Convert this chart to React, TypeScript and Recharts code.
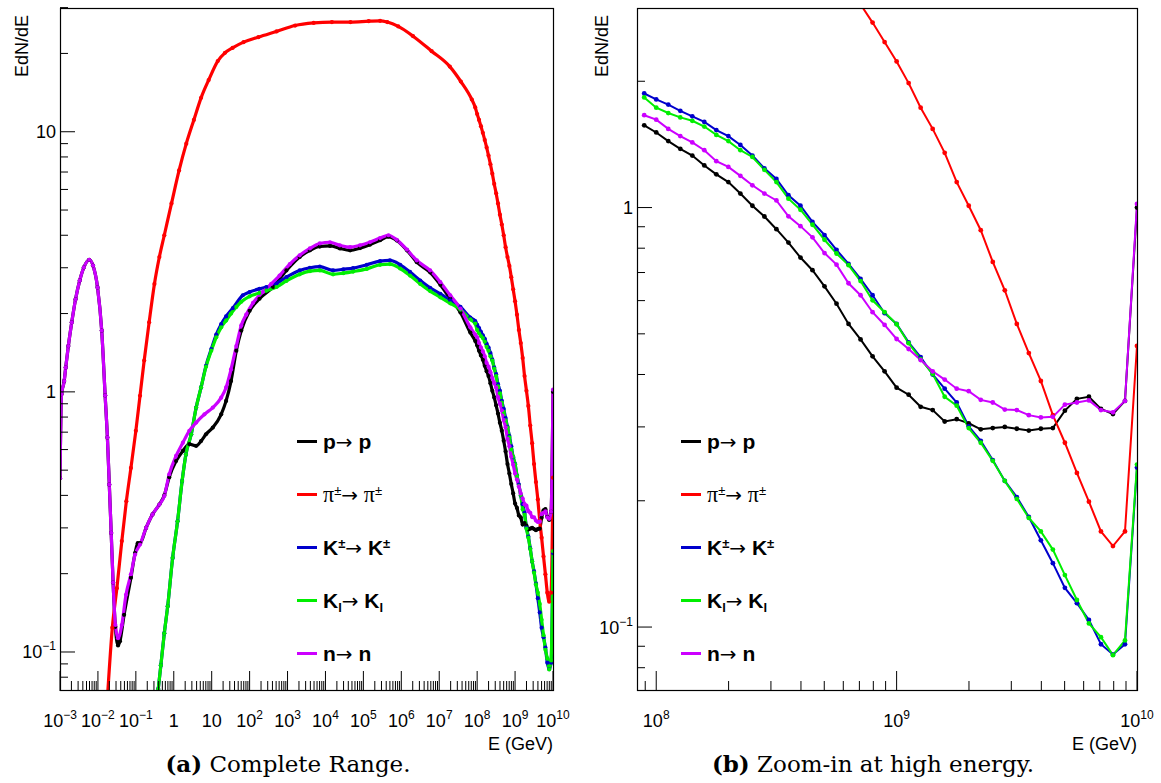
import React from "react";
import { LineChart, Line, XAxis, YAxis, Legend } from "recharts";

// log10(E/GeV) of the fine bins used by both panels above 10^7.95 GeV
const HI_EXP = [
  7.95, 8.0, 8.05, 8.1, 8.15, 8.2, 8.25, 8.3, 8.35, 8.4, 8.45, 8.5, 8.55, 8.6,
  8.65, 8.7, 8.75, 8.8, 8.85, 8.9, 8.95, 9.0, 9.05, 9.1, 9.15, 9.2, 9.25, 9.3,
  9.35, 9.4, 9.45, 9.5, 9.55, 9.6, 9.65, 9.7, 9.75, 9.8, 9.85, 9.9, 9.95, 10.0,
];

// p -> p
const P_LO_EXP = [
  -3.0, -2.96, -2.89, -2.85, -2.78, -2.69, -2.59, -2.48, -2.37, -2.23, -2.13, -2.01,
  -1.9, -1.81, -1.75, -1.7, -1.65, -1.6, -1.54, -1.47, -1.42, -1.31, -1.13, -1.02,
  -0.95, -0.89, -0.73, -0.56, -0.38, -0.25, -0.12, 0.06, 0.24, 0.41, 0.59, 0.72,
  0.85, 1.03, 1.25, 1.38, 1.51, 1.65, 1.78, 2.0, 2.26, 2.62, 2.97, 3.32, 3.59,
  3.85, 4.12, 4.38, 4.65, 4.91, 5.17, 5.44, 5.66, 5.88, 6.15, 6.41, 6.76, 7.03,
  7.29, 7.56, 7.82,
];
const P_LO = [
  0.465, 0.98, 1.1, 1.24, 1.5, 1.85, 2.27, 2.68, 3.01, 3.22, 3.06, 2.52,
  1.72, 0.97, 0.667, 0.44, 0.287, 0.185, 0.125, 0.106, 0.11, 0.139, 0.193, 0.24,
  0.262, 0.262, 0.3, 0.338, 0.369, 0.4, 0.47, 0.542, 0.593, 0.63, 0.62, 0.647,
  0.687, 0.729, 0.82, 0.923, 1.1, 1.44, 1.72, 2.05, 2.28, 2.53, 2.93, 3.3, 3.5,
  3.62, 3.64, 3.56, 3.5, 3.57, 3.68, 3.83, 3.95, 3.82, 3.5, 3.15, 2.88, 2.58,
  2.28, 2.02, 1.69,
];
const P_HI = [
  1.57, 1.51, 1.44, 1.38, 1.33, 1.26, 1.2, 1.15, 1.08, 1.01, 0.952, 0.888, 0.825,
  0.76, 0.709, 0.649, 0.59, 0.528, 0.485, 0.442, 0.407, 0.372, 0.358, 0.335,
  0.329, 0.309, 0.313, 0.306, 0.296, 0.298, 0.3, 0.297, 0.294, 0.297, 0.298,
  0.328, 0.35, 0.354, 0.331, 0.322, 0.346, 1.0,
];

// pi± -> pi±
const PI_LO_EXP = [
  -1.74, -1.62, -1.5, -1.37, -1.25, -1.13, -1.0, -0.89, -0.78, -0.65, -0.51, -0.38,
  -0.25, -0.06, 0.14, 0.33, 0.53, 0.72, 0.92, 1.16, 1.35, 1.55, 1.84, 2.23, 2.71,
  3.2, 3.69, 4.17, 4.66, 5.14, 5.44, 5.63, 5.92, 6.31, 6.8, 7.28, 7.57, 7.86,
];
const PI_LO = [
  0.07, 0.124, 0.176, 0.267, 0.38, 0.51, 0.708, 0.966, 1.32, 1.85, 2.6, 3.3,
  4.0, 5.3, 7.1, 9.0, 11.1, 13.5, 15.8, 18.7, 20.1, 21.0, 22.1, 23.1, 24.3,
  25.6, 26.2, 26.4, 26.4, 26.6, 26.7, 26.4, 25.4, 23.3, 20.4, 17.8, 15.6, 13.3,
];
const PI_HI = [
  12.4, 11.7, 11.1, 10.5, 9.9, 9.3, 8.7, 8.1, 7.5, 6.9, 6.3, 5.8, 5.3, 4.8, 4.4,
  4.0, 3.6, 3.3, 3.05, 2.76, 2.48, 2.23, 1.98, 1.73, 1.54, 1.35, 1.15, 1.01,
  0.883, 0.742, 0.635, 0.528, 0.45, 0.386, 0.32, 0.275, 0.233, 0.199, 0.169,
  0.156, 0.169, 0.468,
];

// K± -> K±
const KC_LO_EXP = [
  -0.41, -0.34, -0.25, -0.16, -0.03, 0.1, 0.22, 0.32, 0.46, 0.59, 0.72, 0.85,
  0.99, 1.12, 1.25, 1.38, 1.56, 1.82, 2.0, 2.26, 2.44, 2.71, 2.97, 3.32, 3.59,
  3.85, 4.2, 4.47, 4.73, 5.09, 5.44, 5.7, 5.97, 6.23, 6.5, 6.76, 7.03, 7.29,
  7.56, 7.82,
];
const KC_LO = [
  0.072, 0.089, 0.118, 0.15, 0.23, 0.318, 0.454, 0.575, 0.687, 0.87, 1.04, 1.26,
  1.46, 1.66, 1.82, 1.95, 2.1, 2.35, 2.42, 2.49, 2.53, 2.61, 2.76, 2.93, 3.0,
  3.03, 2.93, 2.96, 2.99, 3.08, 3.18, 3.2, 3.08, 2.89, 2.68, 2.51, 2.38, 2.25,
  2.12, 1.93,
];
const KC_HI = [
  1.87, 1.81, 1.76, 1.7, 1.65, 1.6, 1.53, 1.48, 1.41, 1.33, 1.24, 1.17, 1.07,
  1.01, 0.924, 0.86, 0.793, 0.734, 0.676, 0.618, 0.56, 0.528, 0.477, 0.44, 0.4,
  0.37, 0.343, 0.301, 0.278, 0.25, 0.223, 0.204, 0.183, 0.161, 0.142, 0.124,
  0.114, 0.104, 0.091, 0.086, 0.091, 0.24,
];

// K_l -> K_l
const KL_LO_EXP = [
  -0.41, -0.34, -0.25, -0.16, -0.03, 0.1, 0.22, 0.32, 0.46, 0.59, 0.72, 0.85,
  0.99, 1.12, 1.25, 1.38, 1.51, 1.65, 1.78, 2.0, 2.26, 2.44, 2.71, 2.97, 3.32,
  3.59, 3.85, 4.2, 4.47, 4.73, 5.09, 5.44, 5.7, 5.97, 6.23, 6.5, 6.76, 7.03,
  7.29, 7.56, 7.82,
];
const KL_LO = [
  0.072, 0.089, 0.118, 0.15, 0.23, 0.318, 0.454, 0.575, 0.687, 0.87, 1.04, 1.25,
  1.44, 1.62, 1.77, 1.88, 2.0, 2.12, 2.22, 2.33, 2.4, 2.45, 2.53, 2.67, 2.83,
  2.91, 2.93, 2.83, 2.86, 2.9, 2.97, 3.08, 3.1, 2.98, 2.8, 2.6, 2.44, 2.31,
  2.19, 2.07, 1.9,
];
const KL_HI = [
  1.83, 1.73, 1.68, 1.64, 1.61, 1.56, 1.49, 1.44, 1.37, 1.32, 1.23, 1.15, 1.05,
  0.988, 0.91, 0.838, 0.777, 0.729, 0.668, 0.601, 0.563, 0.527, 0.475, 0.435,
  0.401, 0.354, 0.337, 0.298, 0.275, 0.249, 0.223, 0.202, 0.182, 0.169, 0.153,
  0.133, 0.116, 0.102, 0.0946, 0.0857, 0.0929, 0.244,
];

// n -> n
const N_LO_EXP = [
  -3.0, -2.96, -2.89, -2.85, -2.78, -2.69, -2.59, -2.48, -2.37, -2.23, -2.13, -2.01,
  -1.9, -1.81, -1.75, -1.7, -1.65, -1.6, -1.54, -1.47, -1.37, -1.26, -1.13, -1.02,
  -0.89, -0.73, -0.56, -0.38, -0.25, -0.12, 0.06, 0.24, 0.41, 0.59, 0.81, 1.03,
  1.25, 1.38, 1.51, 1.65, 1.78, 1.91, 2.09, 2.35, 2.57, 2.79, 3.06, 3.32, 3.59,
  3.85, 4.12, 4.38, 4.65, 4.91, 5.17, 5.44, 5.66, 5.88, 6.15, 6.41, 6.76, 7.03,
  7.29, 7.56, 7.82,
];
const N_LO = [
  0.465, 0.98, 1.1, 1.24, 1.5, 1.85, 2.27, 2.68, 3.01, 3.22, 3.06, 2.52,
  1.72, 0.97, 0.667, 0.44, 0.287, 0.185, 0.127, 0.113, 0.127, 0.166, 0.199, 0.237,
  0.259, 0.3, 0.338, 0.369, 0.398, 0.482, 0.567, 0.638, 0.708, 0.762, 0.82, 0.87,
  0.95, 1.04, 1.22, 1.5, 1.8, 1.98, 2.2, 2.42, 2.6, 2.8, 3.1, 3.35, 3.56,
  3.72, 3.76, 3.66, 3.6, 3.66, 3.76, 3.9, 4.0, 3.84, 3.52, 3.2, 2.93, 2.64,
  2.35, 2.09, 1.77,
];
const N_HI = [
  1.66, 1.62, 1.54, 1.48, 1.43, 1.37, 1.29, 1.25, 1.19, 1.13, 1.08, 1.04, 0.953,
  0.903, 0.849, 0.779, 0.731, 0.66, 0.618, 0.563, 0.525, 0.486, 0.46, 0.433,
  0.407, 0.389, 0.37, 0.365, 0.348, 0.343, 0.33, 0.329, 0.32, 0.316, 0.317,
  0.339, 0.343, 0.347, 0.329, 0.325, 0.346, 1.02,
];

// tick positions
const LEFT_X_DECADES = [-3, -2, -1, 0, 1, 2, 3, 4, 5, 6, 7, 8, 9, 10];
const RIGHT_X_DECADES = [8, 9, 10];
const MINOR_MULT = [2, 3, 4, 5, 6, 7, 8, 9];
const LEFT_Y_TICKS = [
  0.08, 0.09, 0.1, 0.2, 0.3, 0.4, 0.5, 0.6, 0.7, 0.8, 0.9, 1, 2, 3, 4, 5, 6, 7, 8,
  9, 10, 20, 30,
];
const RIGHT_Y_TICKS = [0.08, 0.09, 0.1, 0.2, 0.3, 0.4, 0.5, 0.6, 0.7, 0.8, 0.9, 1, 2];

const SANS = "'Liberation Sans', Arial, Helvetica, sans-serif";
const SERIF = "'DejaVu Serif', 'Liberation Serif', serif";

const SERIES = [
  { id: "p", color: "#000000", loExp: P_LO_EXP, lo: P_LO, hi: P_HI },
  { id: "pi", color: "#ff0000", loExp: PI_LO_EXP, lo: PI_LO, hi: PI_HI },
  { id: "kc", color: "#0000cc", loExp: KC_LO_EXP, lo: KC_LO, hi: KC_HI },
  { id: "kl", color: "#00ee00", loExp: KL_LO_EXP, lo: KL_LO, hi: KL_HI },
  { id: "n", color: "#cc00ff", loExp: N_LO_EXP, lo: N_LO, hi: N_HI },
];
const SERIES_ORDER = SERIES.map((s) => s.id);

const toPoints = (exps: number[], vals: number[]) =>
  exps.map((e, i) => ({ e: Math.pow(10, e), v: vals[i] }));

const isDecade = (v: number) => {
  const l = Math.log10(v);
  return Math.abs(l - Math.round(l)) < 1e-9;
};

const buildXTicks = (decades: number[]) => {
  const out: number[] = [];
  decades.forEach((d, i) => {
    out.push(Math.pow(10, d));
    if (i < decades.length - 1) MINOR_MULT.forEach((m) => out.push(m * Math.pow(10, d)));
  });
  return out;
};

const LEFT_X_TICKS = buildXTicks(LEFT_X_DECADES);
const RIGHT_X_TICKS = [9e7, ...buildXTicks(RIGHT_X_DECADES)];

function DecadeText({ x, y, exp, anchor }: { x: number; y: number; exp: number; anchor: string }) {
  const common = { x, y, textAnchor: anchor as any, fontFamily: SANS, fontSize: 18, fill: "#000" };
  if (exp === 0) return <text {...common}>1</text>;
  if (exp === 1) return <text {...common}>10</text>;
  const sup = exp < 0 ? "\u2212" + String(-exp) : String(exp);
  return (
    <text {...common}>
      <tspan>10</tspan>
      <tspan dy={-8} fontSize={12}>
        {sup}
      </tspan>
    </text>
  );
}

const makeXTick = (majorLen: number, minorLen: number) => (props: any) => {
  const { x, y, payload } = props;
  const v = payload.value as number;
  const major = isDecade(v);
  return (
    <g>
      <line x1={x} x2={x} y1={y} y2={y - (major ? majorLen : minorLen)} stroke="#000" strokeWidth={1} />
      {major && <DecadeText x={x} y={y + 36} exp={Math.round(Math.log10(v))} anchor="middle" />}
    </g>
  );
};

const makeYTick = (labels: number[]) => (props: any) => {
  const { x, y, payload } = props;
  const v = payload.value as number;
  const major = isDecade(v);
  const exp = Math.round(Math.log10(v));
  return (
    <g>
      <line x1={x} x2={x + (major ? 15 : 8)} y1={y} y2={y} stroke="#000" strokeWidth={1} />
      {major && labels.includes(exp) && <DecadeText x={x - 4} y={y + 6.5} exp={exp} anchor="end" />}
    </g>
  );
};

const sup = { fontSize: "0.62em", verticalAlign: "0.55em", lineHeight: 0 } as React.CSSProperties;
const sub = { fontSize: "0.62em", verticalAlign: "-0.3em", lineHeight: 0 } as React.CSSProperties;
const arrow = { fontWeight: 400, fontFamily: "'DejaVu Sans', sans-serif", fontSize: "0.95em" } as React.CSSProperties;
const greek = { fontFamily: "'Liberation Serif', serif", fontSize: "1.05em" } as React.CSSProperties;

const LEGEND_LABELS: Record<string, React.ReactNode> = {
  p: (
    <span style={{ fontWeight: 700 }}>
      p<span style={arrow}>→</span> p
    </span>
  ),
  pi: (
    <span style={{ fontWeight: 400 }}>
      <span style={greek}>π</span>
      <span style={sup}>±</span>
      <span style={arrow}>→</span> <span style={greek}>π</span>
      <span style={sup}>±</span>
    </span>
  ),
  kc: (
    <span style={{ fontWeight: 700 }}>
      K<span style={sup}>±</span>
      <span style={arrow}>→</span> K<span style={sup}>±</span>
    </span>
  ),
  kl: (
    <span style={{ fontWeight: 700 }}>
      K<span style={sub}>l</span>
      <span style={arrow}>→</span> K<span style={sub}>l</span>
    </span>
  ),
  n: (
    <span style={{ fontWeight: 700 }}>
      n<span style={arrow}>→</span> n
    </span>
  ),
};

const renderLegend = (props: any) => {
  const items = [...(props.payload || [])].sort(
    (a: any, b: any) => SERIES_ORDER.indexOf(a.value) - SERIES_ORDER.indexOf(b.value)
  );
  return (
    <div style={{ fontFamily: SANS, fontSize: 21, color: "#000" }}>
      {items.map((it: any) => (
        <div key={it.value} style={{ display: "flex", alignItems: "center", height: 53 }}>
          <div style={{ width: 20, height: 3, background: it.color, marginRight: 6 }} />
          {LEGEND_LABELS[it.value]}
        </div>
      ))}
    </div>
  );
};

type PanelProps = {
  width: number;
  yAxisWidth: number;
  marginRight: number;
  xDomain: [number, number];
  yDomain: [number, number];
  xTicks: number[];
  yTicks: number[];
  yLabels: number[];
  xMajorLen: number;
  xMinorLen: number;
  legendLeft: number;
  full: boolean;
};

function Panel(p: PanelProps) {
  return (
    <LineChart width={p.width} height={783} margin={{ top: 8, right: p.marginRight, bottom: 0, left: 0 }}>
      <XAxis
        dataKey="e"
        type="number"
        scale="log"
        domain={p.xDomain}
        allowDataOverflow
        ticks={p.xTicks}
        interval={0}
        tickSize={0}
        tickMargin={0}
        height={92}
        axisLine={false}
        tickLine={false}
        tick={makeXTick(p.xMajorLen, p.xMinorLen)}
      />
      <YAxis
        dataKey="v"
        type="number"
        scale="log"
        domain={p.yDomain}
        allowDataOverflow
        ticks={p.yTicks}
        interval={0}
        tickSize={0}
        tickMargin={0}
        width={p.yAxisWidth}
        axisLine={false}
        tickLine={false}
        tick={makeYTick(p.yLabels)}
      />
      <Legend
        layout="vertical"
        align="center"
        verticalAlign="middle"
        width={220}
        height={270}
        wrapperStyle={{ left: p.legendLeft, top: 415, width: 220, height: 270 }}
        content={renderLegend}
      />
      {SERIES.map((s) => (
        <Line
          key={s.id}
          name={s.id}
          data={p.full ? [...toPoints(s.loExp, s.lo), ...toPoints(HI_EXP, s.hi)] : toPoints(HI_EXP, s.hi)}
          dataKey="v"
          type={p.full ? "monotoneX" : "linear"}
          stroke={s.color}
          strokeWidth={p.full ? 3.2 : 2}
          dot={{ r: p.full ? 2.1 : 2.4, fill: s.color, stroke: "none" }}
          activeDot={false}
          isAnimationActive={false}
          legendType="line"
        />
      ))}
    </LineChart>
  );
}

function Decorations() {
  return (
    <svg width={1161} height={783} style={{ position: "absolute", left: 0, top: 0, pointerEvents: "none" }}>
      <rect x={60.5} y={8.5} width={493} height={682} fill="none" stroke="#000" strokeWidth={1.2} />
      <rect x={637.5} y={8.5} width={500} height={682} fill="none" stroke="#000" strokeWidth={1.2} />
      <text transform="rotate(-90)" x={-15} y={28} textAnchor="end" fontFamily={SANS} fontSize={18}>
        EdN/dE
      </text>
      <text transform="rotate(-90)" x={-15} y={608} textAnchor="end" fontFamily={SANS} fontSize={18}>
        EdN/dE
      </text>
      <text x={553} y={750} textAnchor="end" fontFamily={SANS} fontSize={18}>
        E (GeV)
      </text>
      <text x={1137} y={750} textAnchor="end" fontFamily={SANS} fontSize={18}>
        E (GeV)
      </text>
      <text x={288} y={772} textAnchor="middle" fontFamily={SERIF} fontSize={23}>
        <tspan fontWeight="bold">(a)</tspan>
        {" Complete Range."}
      </text>
      <text x={873} y={772} textAnchor="middle" fontFamily={SERIF} fontSize={23}>
        <tspan fontWeight="bold">(b)</tspan>
        {" Zoom-in at high energy."}
      </text>
    </svg>
  );
}

export default function App() {
  return (
    <div style={{ position: "absolute", left: 0, top: 0, width: 1161, height: 783, background: "#fff", overflow: "hidden" }}>
      <div style={{ position: "absolute", left: 0, top: 0 }}>
        <Panel
          width={580}
          yAxisWidth={60}
          marginRight={27}
          xDomain={[1e-3, 1e10]}
          yDomain={[0.0708, 29.9]}
          xTicks={LEFT_X_TICKS}
          yTicks={LEFT_Y_TICKS}
          yLabels={[-1, 0, 1]}
          xMajorLen={20}
          xMinorLen={10}
          legendLeft={297}
          full
        />
      </div>
      <div style={{ position: "absolute", left: 580, top: 0 }}>
        <Panel
          width={581}
          yAxisWidth={57}
          marginRight={24}
          xDomain={[Math.pow(10, 7.92), 1e10]}
          yDomain={[0.0704, 2.99]}
          xTicks={RIGHT_X_TICKS}
          yTicks={RIGHT_Y_TICKS}
          yLabels={[-1, 0]}
          xMajorLen={20}
          xMinorLen={10}
          legendLeft={101}
          full={false}
        />
      </div>
      <Decorations />
    </div>
  );
}
